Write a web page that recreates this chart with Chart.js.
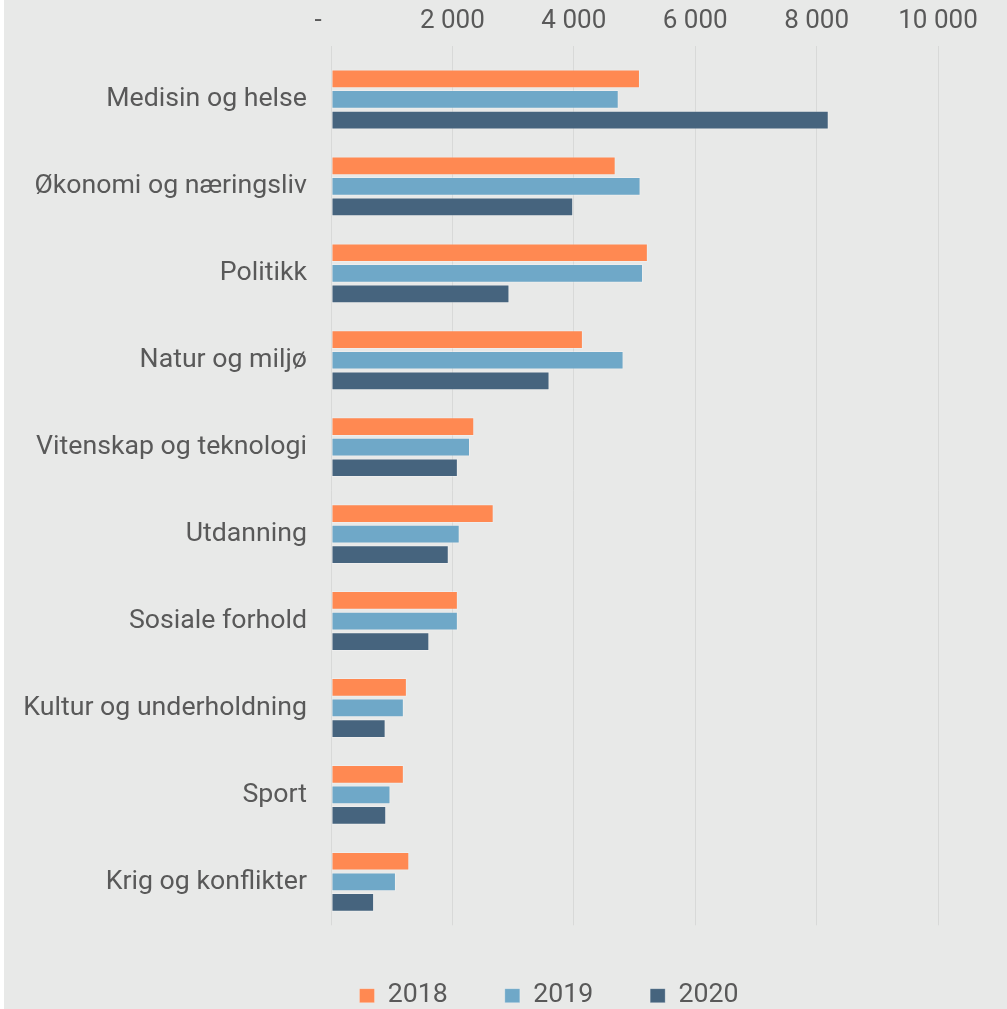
<!DOCTYPE html>
<html>
<head>
<meta charset="utf-8">
<script src="https://cdn.jsdelivr.net/npm/chart.js@4.4.1/dist/chart.umd.min.js"></script>
<style>
    body { margin: 0; background: #ffffff; overflow: hidden; }
    .wrap { margin-left: 4px; width: 1003px; height: 1019px; background: #e8e9e8; }
</style>
</head>
<body>
<div class="wrap"><canvas id="chart"></canvas></div>
<script>
const categories = ['Medisin og helse', 'Økonomi og næringsliv', 'Politikk', 'Natur og miljø',
    'Vitenskap og teknologi', 'Utdanning', 'Sosiale forhold', 'Kultur og underholdning', 'Sport', 'Krig og konflikter'];
const years = ['2018', '2019', '2020'];
const values2018 = [5090, 4690, 5220, 4150, 2360, 2680, 2090, 1250, 1200, 1290];
const values2019 = [4740, 5100, 5140, 4820, 2290, 2120, 2090, 1200, 980, 1070];
const values2020 = [8200, 3990, 2940, 3600, 2090, 1940, 1620, 900, 910, 710];
const axisMax = 10000;
const axisStep = 2000;

const colors = ['#ff8952', '#6fa8c8', '#46647e'];
const textColor = '#595959';
const gridColor = '#d8d9d8';

Chart.defaults.font.family = 'Roboto, "Noto Sans", sans-serif';
Chart.defaults.font.size = 26;
Chart.defaults.color = textColor;

// tusenskille med mellomrom, null vises som strek
function formatTick(v) {
    if (v === 0) return '-    ';
    return String(v).replace(/\B(?=(\d{3})+(?!\d))/g, ' ');
}

// flytter forklaringen litt mot høyre, som i originalen
const legendShift = {
    id: 'legendShift',
    afterLayout(chart) {
        chart.legend.left += 78;
        chart.legend.right += 78;
    }
};

const ctx = document.getElementById('chart').getContext('2d');
new Chart(ctx, {
    type: 'bar',
    data: {
        labels: categories,
        datasets: [values2018, values2019, values2020].map((vals, i) => ({
            label: years[i],
            data: vals,
            backgroundColor: colors[i],
            borderColor: 'rgba(255,255,255,0.25)',
            borderWidth: 1,
            borderSkipped: false,
            categoryPercentage: 0.71,
            barPercentage: 0.91
        }))
    },
    options: {
        indexAxis: 'y',
        responsive: true,
        maintainAspectRatio: false,
        animation: false,
        layout: { padding: { left: 0, right: 69, top: 0, bottom: 0 } },
        scales: {
            x: {
                position: 'top',
                min: 0,
                max: axisMax,
                ticks: { stepSize: axisStep, padding: 9, color: textColor, callback: formatTick, maxRotation: 0 },
                grid: { color: gridColor, lineWidth: 1, drawTicks: true, tickLength: 10, tickColor: gridColor },
                border: { display: false },
                afterFit: (scale) => { scale.height = 56; }
            },
            y: {
                ticks: { padding: 16, color: textColor, font: { size: 26.7 } },
                grid: { display: false },
                border: { display: false },
                afterFit: (scale) => { scale.width = 327; }
            }
        },
        plugins: {
            legend: {
                position: 'bottom',
                labels: { boxWidth: 15, boxHeight: 14, padding: 57, color: textColor, font: { size: 26.7 } }
            },
            tooltip: { enabled: false }
        }
    },
    plugins: [legendShift]
});
</script>
</body>
</html>
